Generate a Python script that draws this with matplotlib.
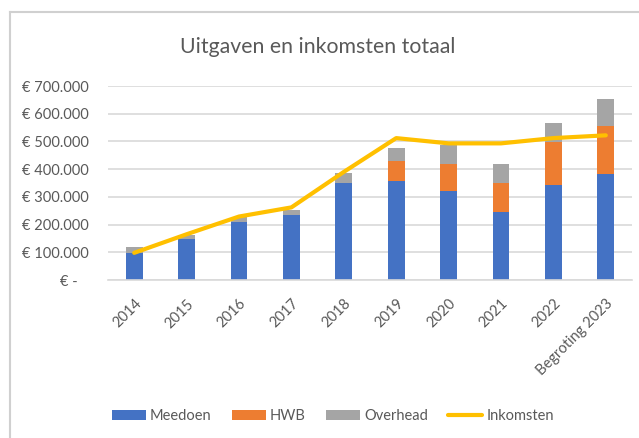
import matplotlib
matplotlib.use("Agg")
import matplotlib.pyplot as plt
from matplotlib.lines import Line2D
import numpy as np

# data
years = ["2014", "2015", "2016", "2017", "2018", "2019", "2020", "2021", "2022", "Begroting 2023"]
meedoen = [98000, 147000, 210000, 235000, 351000, 358000, 320000, 244000, 342000, 383000]
hwb = [0, 0, 0, 0, 0, 70000, 99000, 105000, 157000, 174000]
overhead = [22000, 15000, 19000, 18000, 34000, 47000, 68000, 71000, 67000, 95000]
inkomsten = [98000, 165000, 229000, 262000, 390000, 512000, 493000, 493000, 512000, 522000]
ytick_values = [0, 100000, 200000, 300000, 400000, 500000, 600000, 700000]
ytick_labels = ["€ -   ", "€ 100.000", "€ 200.000", "€ 300.000", "€ 400.000",
                "€ 500.000", "€ 600.000", "€ 700.000"]

plt.rcParams['font.family'] = ['Lato', 'DejaVu Sans']
text_color = '#595959'
grid_color = '#D9D9D9'

fig = plt.figure(figsize=(6.39, 4.38), dpi=100)
ax = fig.add_axes([108 / 639, 1 - 280 / 438, 524 / 639, 194 / 438])

x = np.arange(len(years))
w = 0.32
meedoen = np.array(meedoen)
hwb = np.array(hwb)
overhead = np.array(overhead)
b1 = ax.bar(x, meedoen, w, color='#4472C4', label='Meedoen', zorder=2)
b2 = ax.bar(x, hwb, w, bottom=meedoen, color='#ED7D31', label='HWB', zorder=2)
b3 = ax.bar(x, overhead, w, bottom=meedoen + hwb, color='#A5A5A5', label='Overhead', zorder=2)
l1, = ax.plot(x, inkomsten, color='#FFC000', linewidth=3, label='Inkomsten', zorder=3,
              solid_capstyle='round', solid_joinstyle='round')

ax.set_xlim(-0.5, len(years) - 0.5)
ax.set_ylim(0, 700000)
ax.set_yticks(ytick_values)
ax.set_yticklabels(ytick_labels)
ax.set_xticks(x)
ax.set_xticklabels(years, rotation=45, ha='right', va='top', rotation_mode='anchor')
ax.tick_params(axis='y', length=0, pad=14, labelsize=10.5, labelcolor=text_color)
ax.tick_params(axis='x', length=0, pad=12, labelsize=10.5, labelcolor=text_color)
ax.grid(axis='y', color=grid_color, linewidth=1.2, zorder=0)
for s in ['top', 'right', 'left']:
    ax.spines[s].set_visible(False)
ax.spines['bottom'].set_color(grid_color)
ax.spines['bottom'].set_linewidth(1.2)

fig.text(318 / 639, 1 - 47 / 438, 'Uitgaven en inkomsten totaal', ha='center', va='center',
         fontsize=15.3, color=text_color)

fig.legend([b1, b2, b3, l1], ['Meedoen', 'HWB', 'Overhead', 'Inkomsten'],
           loc='center', bbox_to_anchor=(333 / 639, 1 - 416 / 438), ncol=4, frameon=False,
           fontsize=10.5, handlelength=2.3, handletextpad=0.3, columnspacing=1.4,
           labelcolor=text_color)

# chart frame (top and left edge visible in the reference)
fig.add_artist(Line2D([10 / 639, 1], [1 - 12 / 438, 1 - 12 / 438], color='#D0D0D0', linewidth=1.5))
fig.add_artist(Line2D([10 / 639, 10 / 639], [0, 1 - 12 / 438], color='#D0D0D0', linewidth=1.5))

fig.savefig('out.png', dpi=100)
